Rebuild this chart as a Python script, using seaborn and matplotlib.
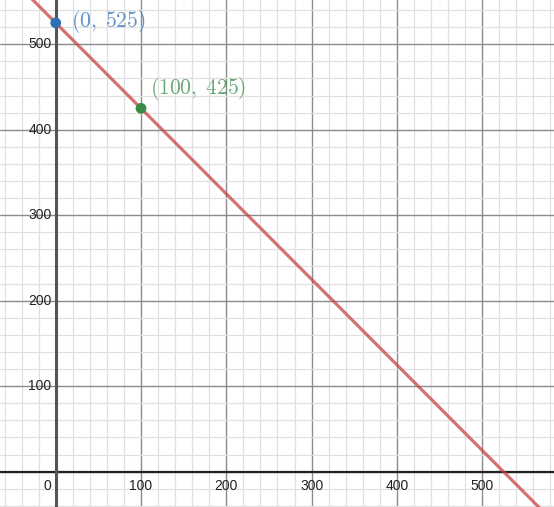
import numpy as np
import pandas as pd
import matplotlib
matplotlib.use("Agg")
import matplotlib.pyplot as plt
import seaborn as sns

# Data
point_labels = ["(0, 525)", "(100, 425)"]
point_x = [0, 100]
point_y = [525, 425]
point_colors = ["#2d70b3", "#388c46"]
x_ticks = [0, 100, 200, 300, 400, 500]
y_ticks = [100, 200, 300, 400, 500]

sns.set_theme(style="white")
plt.rcParams["font.family"] = ["Liberation Sans", "DejaVu Sans"]
plt.rcParams["mathtext.fontset"] = "cm"

fig = plt.figure(figsize=(5.54, 5.07), dpi=100)
ax = fig.add_axes([0, 0, 1, 1])

xmin, xmax = -65.3, 584.2
ymin, ymax = -41.3, 551.7
ax.set_xlim(xmin, xmax)
ax.set_ylim(ymin, ymax)

# grid
for v in np.arange(-60, 600, 20):
    major = (v % 100 == 0)
    ax.axvline(v, color="#8c8c8c" if major else "#e0e0e0", lw=1.0 if major else 0.9, zorder=0)
for v in np.arange(-40, 560, 20):
    major = (v % 100 == 0)
    ax.axhline(v, color="#8c8c8c" if major else "#e0e0e0", lw=1.0 if major else 0.9, zorder=0)
ax.axhline(0, color="#222222", lw=1.6, zorder=1)
ax.axvline(0, color="#555555", lw=2.2, zorder=1)

# line through the two points
slope = (point_y[1] - point_y[0]) / (point_x[1] - point_x[0])
intercept = point_y[0] - slope * point_x[0]
lx = np.array([xmin - 50, xmax + 50])
line_df = pd.DataFrame({"x": lx, "y": intercept + slope * lx})
sns.lineplot(data=line_df, x="x", y="y", ax=ax, color="#c74440", lw=2.3, alpha=0.75, zorder=3)

pts = pd.DataFrame({"x": point_x, "y": point_y, "label": point_labels})
sns.scatterplot(data=pts, x="x", y="y", hue="label", palette=point_colors, s=60,
                edgecolor="none", legend=False, ax=ax, zorder=4)

offsets = [(15, 1), (9, 20)]
for (lab, x, y, c, off) in zip(point_labels, point_x, point_y, point_colors, offsets):
    ax.annotate("$" + lab.replace(" ", r"\;") + "$", (x, y), xytext=off, textcoords="offset pixels",
                color=c, alpha=0.75, fontsize=15.5, ha="left", va="center", zorder=5)

# tick labels
for t in x_ticks:
    ax.text(t - (10 if t == 0 else 0), -8, str(t), ha="center", va="top",
            fontsize=10, color="#222222", zorder=2)
for t in y_ticks:
    ax.text(-5, t, str(t), ha="right", va="center", fontsize=10, color="#222222", zorder=2)

ax.set_xlabel("")
ax.set_ylabel("")
ax.set_xticks([])
ax.set_yticks([])
for s in ax.spines.values():
    s.set_visible(False)

fig.savefig("out.png", dpi=100)
